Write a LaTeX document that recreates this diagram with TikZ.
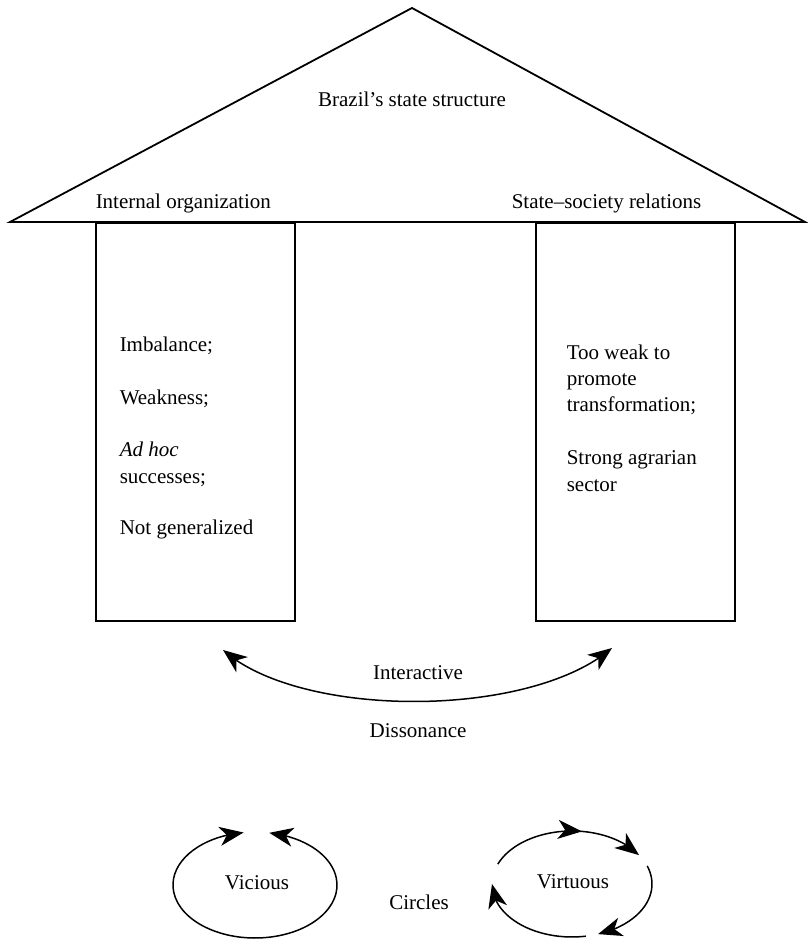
\documentclass[tikz,border=0pt]{standalone}
\usepackage{fontspec}
\setmainfont{Liberation Serif}
\usetikzlibrary{arrows.meta,bending,decorations.markings}
\begin{document}
\begin{tikzpicture}[x=1pt,y=1pt,line width=1.5pt,
  tipend/.style={-{Stealth[length=24pt,width=19pt,inset=7pt]}},
  tipboth/.style={{Stealth[length=24pt,width=19pt,inset=7pt]}-{Stealth[length=24pt,width=19pt,inset=7pt]}},
  lbl/.style={inner sep=0pt,font=\fontsize{21}{26}\selectfont},
  pillar/.style={draw,line width=1.8pt,minimum width=199pt,minimum height=398pt,anchor=north west,inner sep=0pt},
  midarrow/.style={postaction={decorate},decoration={markings,mark=at position #1 with {\arrow{Stealth[length=24pt,width=19pt,inset=7pt]}}}}]
\useasboundingbox (0,0) rectangle (807,941);
% roof
\coordinate (apex) at (412,933);
\coordinate (bl) at (10,719);
\coordinate (br) at (805,719);
\draw[line width=1.8pt,line join=miter] (bl) -- (apex) -- (br) -- cycle;
\node[lbl,anchor=base] (title) at (412,834) {Brazil's state structure};
\node[lbl,anchor=base west] (internal) at (95,732) {Internal organization};
\node[lbl,anchor=base west] (statesoc) at (511,732) {State–society relations};
% pillars
\node[pillar] (lp) at (95,719) {};
\node[pillar] (rp) at (535,719) {};
% left pillar text
\node[lbl,anchor=base west] (l1) at (119,589) {Imbalance;};
\node[lbl,anchor=base west] (l2) at (119,536) {Weakness;};
\node[lbl,anchor=base west] (l3) at (119,484) {\itshape Ad hoc};
\node[lbl,anchor=base west] (l4) at (119,457) {successes;};
\node[lbl,anchor=base west] (l5) at (119,406) {Not generalized};
% right pillar text
\node[lbl,anchor=base west] (r1) at (566,581) {Too weak to};
\node[lbl,anchor=base west] (r2) at (566,555) {promote};
\node[lbl,anchor=base west] (r3) at (566,529) {transformation;};
\node[lbl,anchor=base west] (r4) at (566,476) {Strong agrarian};
\node[lbl,anchor=base west] (r5) at (566,449) {sector};
% interactive arc
\coordinate (arcL) at (223,291);
\coordinate (arcR) at (612,293);
\draw[tipboth] (arcL) .. controls (300,222) and (530,222) .. (arcR);
\node[lbl,anchor=base] (inter) at (418,261) {Interactive};
\node[lbl,anchor=base] (diss) at (418,203) {Dissonance};
% vicious circle
\coordinate (vc) at (255,56);
\draw[tipboth] ([shift={(98:82 and 53)}]vc) arc[start angle=98,end angle=440,x radius=82,y radius=53];
\node[lbl,anchor=base] (vic) at (257,51) {Vicious};
\node[lbl,anchor=base] (circ) at (419,31) {Circles};
% virtuous circle
\coordinate (tc) at (572,57);
\draw[tipend,midarrow=0.6] ([shift={(158:80 and 53)}]tc) arc[start angle=158,end angle=33,x radius=80,y radius=53];
\draw[tipend] ([shift={(20:80 and 53)}]tc) arc[start angle=20,end angle=-71,x radius=80,y radius=53];
\draw[tipend] ([shift={(-80:80 and 53)}]tc) arc[start angle=-80,end angle=-180,x radius=80,y radius=53];
\node[lbl,anchor=base] (vir) at (573,52) {Virtuous};
\end{tikzpicture}
\end{document}
